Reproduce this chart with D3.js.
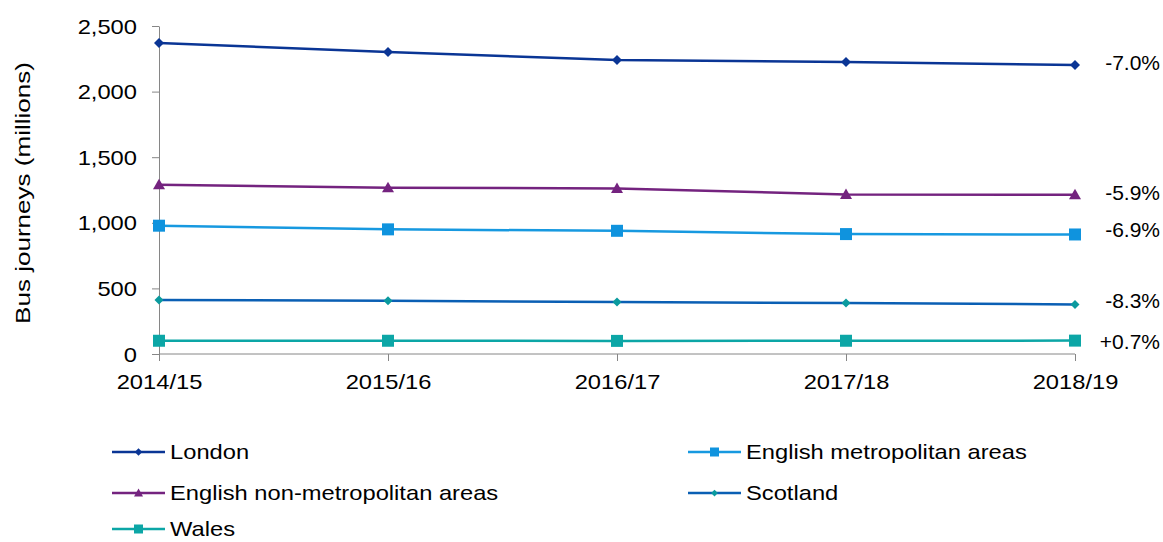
<!DOCTYPE html>
<html><head><meta charset="utf-8">
<script src="https://cdn.jsdelivr.net/npm/d3@7"></script>
<style>body{margin:0;background:#fff;}svg{display:block;font-family:"Liberation Sans",Arial,sans-serif;}</style>
</head><body>
<svg id="c" width="1163" height="542"></svg>
<script>
const years = ["2014/15","2015/16","2016/17","2017/18","2018/19"];
const london = [2370, 2302, 2241, 2226, 2203];
const englishNonMetro = [1290, 1267, 1262, 1216, 1214];
const englishMetro = [978, 950, 939, 914, 911];
const scotland = [412, 405, 396, 389, 378];
const wales = [101, 101, 100, 101, 102];
const changeLabels = ["-7.0%","-5.9%","-6.9%","-8.3%","+0.7%"];
const yTicks = [0, 500, 1000, 1500, 2000, 2500];

const FS = 21, SX = 1.13;

const series = [
  {name:"London", values:london, color:"#0a3595", marker:"diamond", mColor:"#0a3595", msize:5, change:changeLabels[0]},
  {name:"English non-metropolitan areas", values:englishNonMetro, color:"#74237f", marker:"triangle", mColor:"#74237f", msize:6, change:changeLabels[1]},
  {name:"English metropolitan areas", values:englishMetro, color:"#1799e0", marker:"square", mColor:"#0f93de", msize:6, change:changeLabels[2]},
  {name:"Scotland", values:scotland, color:"#0a5fb4", marker:"diamond", mColor:"#0a9a9e", msize:4.5, change:changeLabels[3]},
  {name:"Wales", values:wales, color:"#0ca6a6", marker:"square", mColor:"#0ca6a6", msize:6, change:changeLabels[4]}
];

const svg = d3.select("#c");
const x = d3.scalePoint().domain(years).range([159, 1075]);
const y = d3.scaleLinear().domain([0, 2500]).range([354, 26]);

function styleText(sel, anchor, xx, yy, sx){
  sel.attr("font-size", FS+"px").attr("fill","#000").attr("text-anchor",anchor)
     .attr("x",0).attr("y",0).attr("dy","0.34em")
     .attr("transform",`translate(${xx},${yy}) scale(${sx==null?SX:sx},1)`);
}

const yAxis = svg.append("g").attr("transform","translate(159,0)")
  .call(d3.axisLeft(y).tickValues(yTicks).tickFormat(d3.format(",")).tickSize(7).tickSizeOuter(0));
yAxis.select(".domain").attr("stroke","#868686");
yAxis.selectAll(".tick line").attr("stroke","#868686");
yAxis.selectAll("text").each(function(){ styleText(d3.select(this), "end", -22, 0); });

const xAxis = svg.append("g").attr("transform","translate(0,354)")
  .call(d3.axisBottom(x).tickSize(7).tickSizeOuter(0));
xAxis.select(".domain").attr("stroke","#868686").attr("d","M159,0H1075");
xAxis.selectAll(".tick line").attr("stroke","#868686");
xAxis.selectAll("text").each(function(){ styleText(d3.select(this), "middle", 0, 28); });

svg.append("text").attr("transform",`translate(23,193) rotate(-90) scale(1.24,1)`)
  .attr("text-anchor","middle").attr("dy","0.34em").attr("font-size",FS+"px").attr("fill","#000")
  .text("Bus journeys (millions)");

function markerPath(type, s){
  if(type==="diamond") return `M0,${-s}L${s},0L0,${s}L${-s},0Z`;
  if(type==="triangle") return `M0,${-s}L${s},${s*0.75}L${-s},${s*0.75}Z`;
  return `M${-s},${-s}H${s}V${s}H${-s}Z`;
}

const line = d3.line().x((d,i)=>x(years[i])).y(d=>y(d));
const draw = series.slice().reverse();
draw.forEach(s=>{
  svg.append("path").attr("d", line(s.values)).attr("fill","none")
    .attr("stroke", s.color).attr("stroke-width", 2.5);
  svg.selectAll(null).data(s.values).enter().append("path")
    .attr("transform",(d,i)=>`translate(${x(years[i])},${y(d)})`)
    .attr("d", markerPath(s.marker, s.msize)).attr("fill", s.mColor);
});

// change labels
const labelY = [63, 193, 230, 301, 342];
series.forEach((s,i)=>{
  styleText(svg.append("text").text(s.change), "end", 1160, labelY[i], 1);
});

// legend
const legendPos = [
  {s:0, x:112, y:452},{s:2, x:688, y:452},
  {s:1, x:112, y:493},{s:3, x:688, y:493},
  {s:4, x:112, y:529}
];
legendPos.forEach(p=>{
  const s = series[p.s];
  const g = svg.append("g").attr("transform",`translate(${p.x},${p.y})`);
  g.append("line").attr("x1",0).attr("x2",53).attr("y1",0).attr("y2",0)
    .attr("stroke",s.color).attr("stroke-width",2.5);
  g.append("path").attr("transform","translate(26.5,0)")
    .attr("d", markerPath(s.marker, s.msize*0.75)).attr("fill", s.mColor);
  styleText(g.append("text").text(s.name), "start", 58, 0);
});
</script>
</body></html>
